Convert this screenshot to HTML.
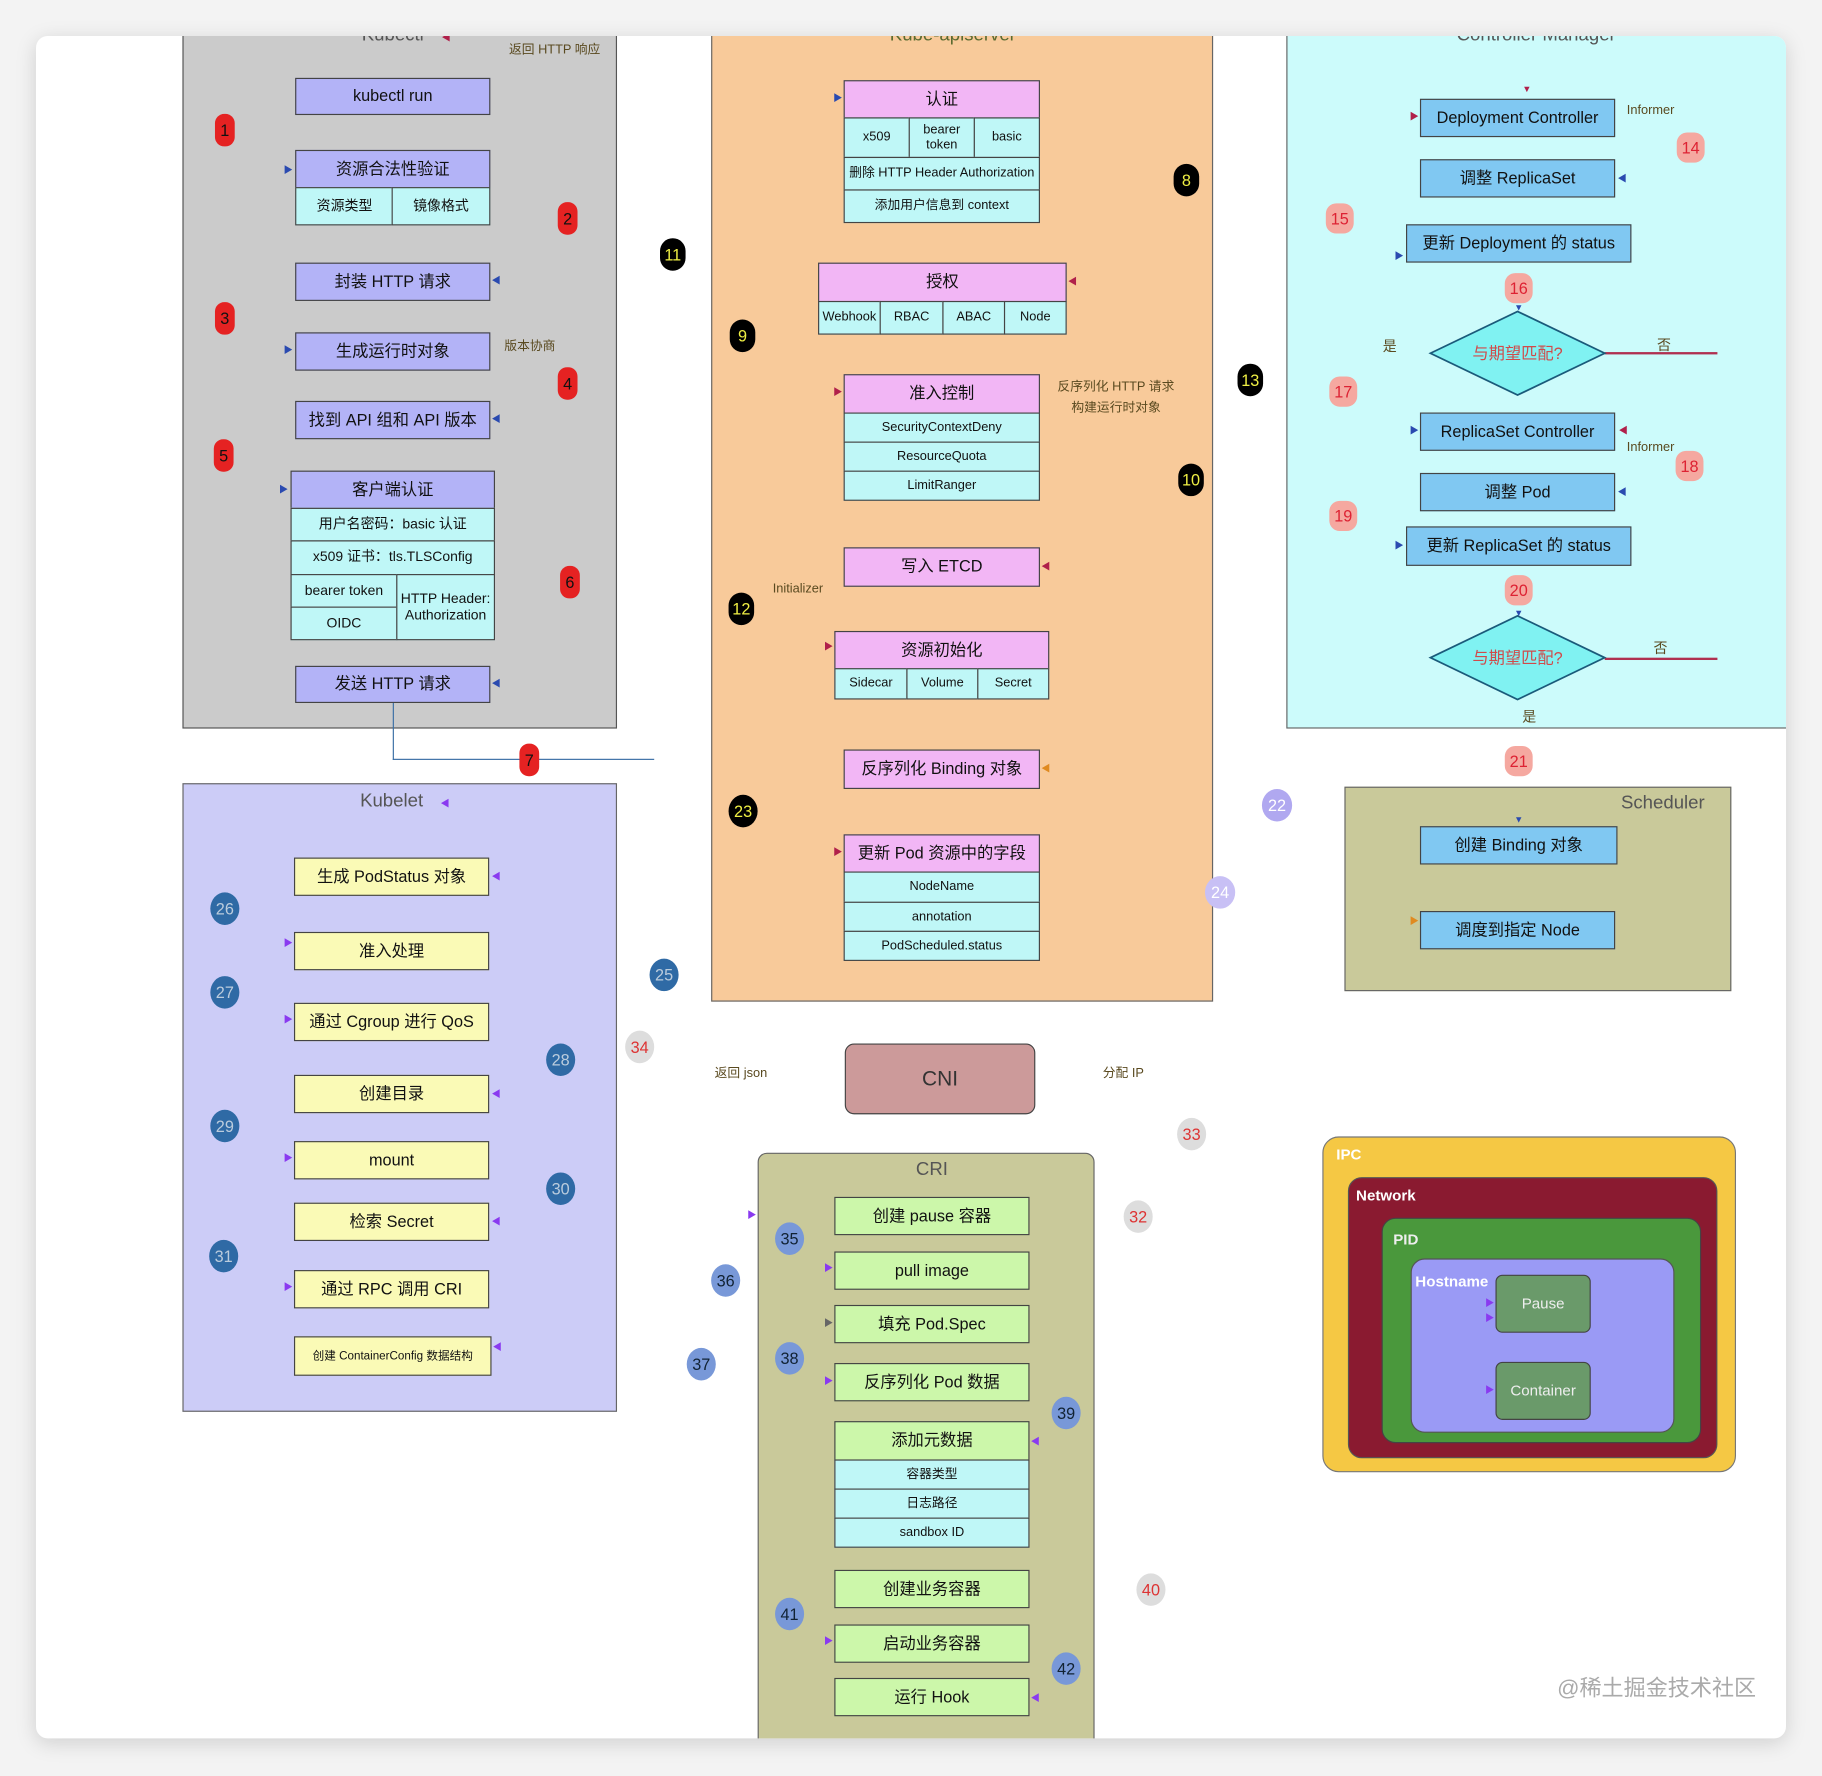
<!DOCTYPE html>
<html><head><meta charset="utf-8"><style>
html,body{margin:0;padding:0;width:1822px;height:1776px;overflow:hidden;background:#f3f3f3;}
#w{position:absolute;left:0;top:0;width:1568px;height:1528px;transform:scale(1.16199);transform-origin:0 0;font-family:"Liberation Sans","Noto Sans CJK SC",sans-serif;}
.a{position:absolute;box-sizing:border-box;}
.b{position:absolute;box-sizing:border-box;border:1.5px solid #444;display:flex;align-items:center;justify-content:center;font-size:14px;color:#111;text-align:center;line-height:1.1;}
.p{background:#b3b3f7}.c{background:#bff7f7}.k{background:#f2b6f5}.s{background:#80c8f2}.y{background:#fafab6}.g{background:#ccf7aa}
.t{position:absolute;font-size:11px;color:#5a4a20;white-space:nowrap;}
.r{position:absolute;width:17px;height:28px;border-radius:8px;background:#e52222;color:#111;font-size:14px;display:flex;align-items:center;justify-content:center;}
.k2{position:absolute;width:22px;height:28px;border-radius:11px;background:#000;color:#ee4;font-size:14px;display:flex;align-items:center;justify-content:center;}
.pk{position:absolute;width:24px;height:26px;border-radius:9px;background:#f5a8a0;color:#d23;font-size:14px;display:flex;align-items:center;justify-content:center;}
.bl{position:absolute;width:25px;height:28px;border-radius:50%;background:#2f6aa5;color:#bcd;font-size:14px;display:flex;align-items:center;justify-content:center;}
.lb{position:absolute;width:25px;height:28px;border-radius:50%;background:#7898d8;color:#123;font-size:14px;display:flex;align-items:center;justify-content:center;}
.gr{position:absolute;width:25px;height:28px;border-radius:50%;background:#ddd;color:#d33;font-size:14px;display:flex;align-items:center;justify-content:center;}
.pu{position:absolute;width:26px;height:28px;border-radius:50%;background:#b0a8f0;color:#fff;font-size:14px;display:flex;align-items:center;justify-content:center;}
.ttl{position:absolute;font-size:16px;color:#555;white-space:nowrap;transform:translateX(-50%);}
.ar{position:absolute;font-size:8px;line-height:8px;transform:translate(-50%,-50%);}
.B{color:#2a4ab0}.R{color:#b0204a}.P{color:#8a3af0}.O{color:#e08a20}.G{color:#666}
</style></head><body><div id="w">
<div class="a" style="left:31px;top:31px;width:1506px;height:1465px;background:#fff;border-radius:10px;box-shadow:0 4px 18px rgba(0,0,0,0.15);overflow:hidden">
<div class="a" style="left:-31px;top:-31px;width:1568px;height:1528px">

<!-- Kubectl -->
<div class="a" style="left:157px;top:20px;width:374px;height:607px;background:#cbcbcb;border:1.5px solid #555"></div>
<div class="ttl" style="left:338px;top:22px">Kubectl</div>
<div class="t" style="left:438px;top:34px">返回 HTTP 响应</div>
<div class="b p" style="left:254px;top:67px;width:168px;height:32px">kubectl run</div>
<div class="b p" style="left:254px;top:129px;width:168px;height:33px">资源合法性验证</div>
<div class="b c" style="left:254px;top:161px;width:85px;height:33px;font-size:12px">资源类型</div>
<div class="b c" style="left:337px;top:161px;width:85px;height:33px;font-size:12px">镜像格式</div>
<div class="b p" style="left:254px;top:226px;width:168px;height:33px">封装 HTTP 请求</div>
<div class="b p" style="left:254px;top:286px;width:168px;height:33px">生成运行时对象</div>
<div class="t" style="left:434px;top:289px">版本协商</div>
<div class="b p" style="left:254px;top:345px;width:168px;height:33px">找到 API 组和 API 版本</div>
<div class="b p" style="left:250px;top:405px;width:176px;height:33px">客户端认证</div>
<div class="b c" style="left:250px;top:437px;width:176px;height:29px;font-size:12px">用户名密码：basic 认证</div>
<div class="b c" style="left:250px;top:465px;width:176px;height:30px;font-size:12px">x509 证书：tls.TLSConfig</div>
<div class="b c" style="left:250px;top:494px;width:92px;height:29px;font-size:12px">bearer token</div>
<div class="b c" style="left:250px;top:522px;width:92px;height:29px;font-size:12px">OIDC</div>
<div class="b c" style="left:341px;top:494px;width:85px;height:57px;font-size:12px">HTTP Header:<br>Authorization</div>
<div class="b p" style="left:254px;top:573px;width:168px;height:32px">发送 HTTP 请求</div>
<div class="a" style="left:338px;top:605px;width:1px;height:49px;background:#3a6ea5"></div>
<div class="a" style="left:338px;top:653px;width:225px;height:1px;background:#3a6ea5"></div>
<div class="r" style="left:185px;top:98px">1</div><div class="r" style="left:480px;top:174px">2</div>
<div class="r" style="left:185px;top:260px">3</div><div class="r" style="left:480px;top:316px">4</div>
<div class="r" style="left:184px;top:378px">5</div><div class="r" style="left:482px;top:487px">6</div>
<div class="r" style="left:447px;top:640px">7</div>
<span class="ar R" style="left:384px;top:33px">◀</span>
<span class="ar B" style="left:248px;top:147px">▶</span><span class="ar B" style="left:427px;top:242px">◀</span>
<span class="ar B" style="left:248px;top:302px">▶</span><span class="ar B" style="left:427px;top:361px">◀</span>
<span class="ar B" style="left:244px;top:422px">▶</span><span class="ar B" style="left:427px;top:589px">◀</span>

<!-- apiserver -->
<div class="a" style="left:612px;top:20px;width:432px;height:842px;background:#f8ca9a;border:1.5px solid #666"></div>
<div class="ttl" style="left:820px;top:22px;color:#5a6a30">Kube-apiserver</div>
<div class="b k" style="left:726px;top:69px;width:169px;height:33px">认证</div>
<div class="b c" style="left:726px;top:101px;width:57px;height:35px;font-size:11px">x509</div>
<div class="b c" style="left:782px;top:101px;width:57px;height:35px;font-size:11px">bearer<br>token</div>
<div class="b c" style="left:838px;top:101px;width:57px;height:35px;font-size:11px">basic</div>
<div class="b c" style="left:726px;top:135px;width:169px;height:29px;font-size:11px">删除 HTTP Header Authorization</div>
<div class="b c" style="left:726px;top:163px;width:169px;height:29px;font-size:11px">添加用户信息到 context</div>
<div class="b k" style="left:704px;top:226px;width:214px;height:34px">授权</div>
<div class="b c" style="left:704px;top:259px;width:54px;height:29px;font-size:11px">Webhook</div>
<div class="b c" style="left:757px;top:259px;width:55px;height:29px;font-size:11px">RBAC</div>
<div class="b c" style="left:811px;top:259px;width:54px;height:29px;font-size:11px">ABAC</div>
<div class="b c" style="left:864px;top:259px;width:54px;height:29px;font-size:11px">Node</div>
<div class="b k" style="left:726px;top:322px;width:169px;height:34px">准入控制</div>
<div class="b c" style="left:726px;top:355px;width:169px;height:26px;font-size:11px">SecurityContextDeny</div>
<div class="b c" style="left:726px;top:380px;width:169px;height:26px;font-size:11px">ResourceQuota</div>
<div class="b c" style="left:726px;top:405px;width:169px;height:26px;font-size:11px">LimitRanger</div>
<div class="t" style="left:910px;top:324px">反序列化 HTTP 请求</div>
<div class="t" style="left:922px;top:342px">构建运行时对象</div>
<div class="b k" style="left:726px;top:471px;width:169px;height:34px">写入 ETCD</div>
<div class="t" style="left:665px;top:501px">Initializer</div>
<div class="b k" style="left:718px;top:543px;width:185px;height:33px">资源初始化</div>
<div class="b c" style="left:718px;top:575px;width:63px;height:27px;font-size:11px">Sidecar</div>
<div class="b c" style="left:780px;top:575px;width:62px;height:27px;font-size:11px">Volume</div>
<div class="b c" style="left:841px;top:575px;width:62px;height:27px;font-size:11px">Secret</div>
<div class="b k" style="left:726px;top:645px;width:169px;height:34px">反序列化 Binding 对象</div>
<div class="b k" style="left:726px;top:718px;width:169px;height:33px">更新 Pod 资源中的字段</div>
<div class="b c" style="left:726px;top:750px;width:169px;height:27px;font-size:11px">NodeName</div>
<div class="b c" style="left:726px;top:776px;width:169px;height:26px;font-size:11px">annotation</div>
<div class="b c" style="left:726px;top:801px;width:169px;height:26px;font-size:11px">PodScheduled.status</div>
<div class="k2" style="left:568px;top:205px">11</div><div class="k2" style="left:628px;top:275px">9</div>
<div class="k2" style="left:627px;top:510px">12</div><div class="k2" style="left:1010px;top:141px">8</div>
<div class="k2" style="left:1065px;top:313px">13</div><div class="k2" style="left:1014px;top:399px">10</div>
<div class="k2" style="left:627px;top:684px;width:25px;border-radius:50%">23</div>
<span class="ar B" style="left:721px;top:85px">▶</span><span class="ar R" style="left:923px;top:243px">◀</span>
<span class="ar R" style="left:721px;top:338px">▶</span><span class="ar R" style="left:900px;top:488px">◀</span>
<span class="ar R" style="left:713px;top:557px">▶</span><span class="ar O" style="left:900px;top:662px">◀</span>
<span class="ar R" style="left:721px;top:734px">▶</span>

<!-- Controller manager -->
<div class="a" style="left:1107px;top:20px;width:440px;height:607px;background:#ccfbfb;border:1.5px solid #666"></div>
<div class="ttl" style="left:1322px;top:22px">Controller Manager</div>
<div class="b s" style="left:1222px;top:85px;width:168px;height:33px">Deployment Controller</div>
<div class="t" style="left:1400px;top:89px">Informer</div>
<div class="b s" style="left:1222px;top:137px;width:168px;height:33px">调整 ReplicaSet</div>
<div class="b s" style="left:1210px;top:193px;width:194px;height:33px">更新 Deployment 的 status</div>
<div class="t" style="left:1190px;top:289px;font-size:12px">是</div>
<div class="t" style="left:1426px;top:288px;font-size:12px">否</div>
<div class="a" style="left:1381px;top:303px;width:97px;height:2px;background:#b03050"></div>
<div class="b s" style="left:1222px;top:355px;width:168px;height:33px">ReplicaSet Controller</div>
<div class="t" style="left:1400px;top:379px">Informer</div>
<div class="b s" style="left:1222px;top:407px;width:168px;height:33px">调整 Pod</div>
<div class="b s" style="left:1210px;top:453px;width:194px;height:34px">更新 ReplicaSet 的 status</div>
<div class="t" style="left:1423px;top:549px;font-size:12px">否</div>
<div class="t" style="left:1310px;top:608px;font-size:12px">是</div>
<div class="a" style="left:1381px;top:566px;width:97px;height:2px;background:#b03050"></div>
<svg class="a" style="left:1228px;top:266px" width="158" height="340">
<polygon points="3,38 78,2 153,38 78,74" fill="#80f2f2" stroke="#1a5a7a" stroke-width="1.5"/>
<text x="78" y="43" font-size="14" text-anchor="middle" fill="#d04a4a" font-family="Liberation Sans,Noto Sans CJK SC,sans-serif">与期望匹配?</text>
<polygon points="3,300 78,264 153,300 78,336" fill="#80f2f2" stroke="#1a5a7a" stroke-width="1.5"/>
<text x="78" y="305" font-size="14" text-anchor="middle" fill="#d04a4a" font-family="Liberation Sans,Noto Sans CJK SC,sans-serif">与期望匹配?</text>
</svg>
<span class="ar R" style="left:1314px;top:77px">▼</span><span class="ar R" style="left:1217px;top:101px">▶</span>
<span class="ar B" style="left:1396px;top:154px">◀</span><span class="ar B" style="left:1204px;top:221px">▶</span>
<span class="ar B" style="left:1307px;top:265px">▼</span><span class="ar B" style="left:1217px;top:371px">▶</span>
<span class="ar R" style="left:1397px;top:371px">◀</span><span class="ar B" style="left:1396px;top:424px">◀</span>
<span class="ar B" style="left:1204px;top:470px">▶</span><span class="ar B" style="left:1307px;top:528px">▼</span>
<div class="pk" style="left:1443px;top:114px">14</div><div class="pk" style="left:1141px;top:175px">15</div>
<div class="pk" style="left:1295px;top:235px">16</div><div class="pk" style="left:1144px;top:324px">17</div>
<div class="pk" style="left:1442px;top:388px">18</div><div class="pk" style="left:1144px;top:431px">19</div>
<div class="pk" style="left:1295px;top:495px">20</div><div class="pk" style="left:1295px;top:642px">21</div>
<div class="pu" style="left:1086px;top:679px">22</div>
<div class="pu" style="left:1037px;top:754px;background:#c8c0f5">24</div>

<!-- Scheduler -->
<div class="a" style="left:1157px;top:677px;width:333px;height:176px;background:#c9c99a;border:1.5px solid #666"></div>
<div class="t" style="left:1395px;top:683px;font-size:16px;color:#555">Scheduler</div>
<div class="b s" style="left:1222px;top:711px;width:170px;height:33px">创建 Binding 对象</div>
<div class="b s" style="left:1222px;top:784px;width:168px;height:33px">调度到指定 Node</div>
<span class="ar B" style="left:1307px;top:706px">▼</span><span class="ar O" style="left:1217px;top:793px">▶</span>

<!-- Kubelet -->
<div class="a" style="left:157px;top:674px;width:374px;height:541px;background:#ccccf7;border:1.5px solid #666"></div>
<div class="ttl" style="left:337px;top:681px">Kubelet</div>
<div class="b y" style="left:253px;top:738px;width:168px;height:33px">生成 PodStatus 对象</div>
<div class="b y" style="left:253px;top:802px;width:168px;height:33px">准入处理</div>
<div class="b y" style="left:253px;top:863px;width:168px;height:33px">通过 Cgroup 进行 QoS</div>
<div class="b y" style="left:253px;top:925px;width:168px;height:33px">创建目录</div>
<div class="b y" style="left:253px;top:982px;width:168px;height:33px">mount</div>
<div class="b y" style="left:253px;top:1035px;width:168px;height:33px">检索 Secret</div>
<div class="b y" style="left:253px;top:1093px;width:168px;height:33px">通过 RPC 调用 CRI</div>
<div class="b y" style="left:253px;top:1150px;width:170px;height:34px;font-size:10px">创建 ContainerConfig 数据结构</div>
<span class="ar P" style="left:383px;top:692px">◀</span>
<span class="ar P" style="left:427px;top:755px">◀</span><span class="ar P" style="left:248px;top:812px">▶</span>
<span class="ar P" style="left:248px;top:878px">▶</span><span class="ar P" style="left:427px;top:942px">◀</span>
<span class="ar P" style="left:248px;top:997px">▶</span><span class="ar P" style="left:427px;top:1052px">◀</span>
<span class="ar P" style="left:248px;top:1108px">▶</span><span class="ar P" style="left:428px;top:1160px">◀</span>
<div class="bl" style="left:181px;top:768px">26</div><div class="bl" style="left:181px;top:840px">27</div>
<div class="bl" style="left:470px;top:898px">28</div><div class="bl" style="left:181px;top:955px">29</div>
<div class="bl" style="left:470px;top:1009px">30</div><div class="bl" style="left:180px;top:1067px">31</div>
<div class="bl" style="left:559px;top:825px">25</div>
<div class="gr" style="left:538px;top:887px">34</div><div class="gr" style="left:1013px;top:962px">33</div>
<div class="gr" style="left:967px;top:1033px">32</div><div class="gr" style="left:978px;top:1354px">40</div>

<!-- CNI -->
<div class="t" style="left:615px;top:915px">返回 json</div>
<div class="b" style="left:727px;top:898px;width:164px;height:61px;background:#cc9a9a;border-radius:8px;font-size:18px;color:#333">CNI</div>
<div class="t" style="left:949px;top:915px">分配 IP</div>

<!-- CRI -->
<div class="a" style="left:652px;top:992px;width:290px;height:515px;background:#c9c99a;border:1.5px solid #666;border-radius:8px"></div>
<div class="ttl" style="left:802px;top:998px">CRI</div>
<div class="b g" style="left:718px;top:1030px;width:168px;height:33px">创建 pause 容器</div>
<div class="b g" style="left:718px;top:1077px;width:168px;height:33px">pull image</div>
<div class="b g" style="left:718px;top:1123px;width:168px;height:33px">填充 Pod.Spec</div>
<div class="b g" style="left:718px;top:1173px;width:168px;height:33px">反序列化 Pod 数据</div>
<div class="b g" style="left:718px;top:1223px;width:168px;height:34px">添加元数据</div>
<div class="b c" style="left:718px;top:1256px;width:168px;height:26px;font-size:11px">容器类型</div>
<div class="b c" style="left:718px;top:1281px;width:168px;height:26px;font-size:11px">日志路径</div>
<div class="b c" style="left:718px;top:1306px;width:168px;height:26px;font-size:11px">sandbox ID</div>
<div class="b g" style="left:718px;top:1351px;width:168px;height:33px">创建业务容器</div>
<div class="b g" style="left:718px;top:1398px;width:168px;height:33px">启动业务容器</div>
<div class="b g" style="left:718px;top:1444px;width:168px;height:33px">运行 Hook</div>
<span class="ar P" style="left:647px;top:1046px">▶</span><span class="ar P" style="left:713px;top:1092px">▶</span>
<span class="ar G" style="left:713px;top:1139px">▶</span><span class="ar P" style="left:713px;top:1189px">▶</span>
<span class="ar P" style="left:891px;top:1241px">◀</span><span class="ar P" style="left:713px;top:1413px">▶</span>
<span class="ar P" style="left:891px;top:1462px">◀</span>
<div class="lb" style="left:667px;top:1052px">35</div><div class="lb" style="left:612px;top:1088px">36</div>
<div class="lb" style="left:591px;top:1160px">37</div><div class="lb" style="left:667px;top:1155px">38</div>
<div class="lb" style="left:905px;top:1202px">39</div><div class="lb" style="left:667px;top:1375px">41</div>
<div class="lb" style="left:905px;top:1422px">42</div>

<!-- Namespaces -->
<div class="a" style="left:1138px;top:978px;width:356px;height:289px;background:#f5c844;border:1.5px solid #777;border-radius:14px"></div>
<div class="t" style="left:1150px;top:986px;font-size:13px;font-weight:bold;color:#fff">IPC</div>
<div class="a" style="left:1160px;top:1013px;width:318px;height:242px;background:#8a1a30;border:1.5px solid #555;border-radius:12px"></div>
<div class="t" style="left:1167px;top:1021px;font-size:13px;font-weight:bold;color:#fff">Network</div>
<div class="a" style="left:1189px;top:1048px;width:275px;height:194px;background:#4a983c;border:1.5px solid #444;border-radius:12px"></div>
<div class="t" style="left:1199px;top:1059px;font-size:13px;font-weight:bold;color:#eee">PID</div>
<div class="a" style="left:1214px;top:1083px;width:227px;height:150px;background:#9a9af5;border:1.5px solid #555;border-radius:12px"></div>
<div class="t" style="left:1218px;top:1095px;font-size:13px;font-weight:bold;color:#fff">Hostname</div>
<div class="b" style="left:1287px;top:1097px;width:82px;height:50px;background:#6a9a6a;border-radius:6px;color:#eee;font-size:13px">Pause</div>
<div class="b" style="left:1287px;top:1172px;width:82px;height:50px;background:#6a9a6a;border-radius:6px;color:#eee;font-size:13px">Container</div>
<span class="ar P" style="left:1282px;top:1122px">▶</span><span class="ar P" style="left:1282px;top:1135px">▶</span>
<span class="ar P" style="left:1282px;top:1197px">▶</span>

<div class="t" style="left:1340px;top:1438px;font-size:19px;color:#aaa">@稀土掘金技术社区</div>
</div></div>
</div></body></html>
